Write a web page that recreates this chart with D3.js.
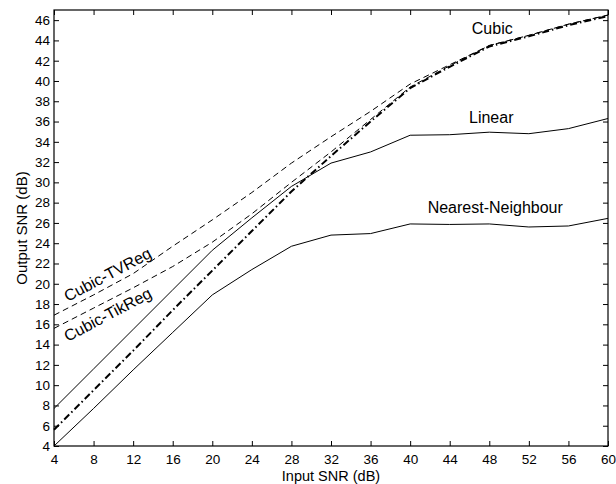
<!DOCTYPE html>
<html>
<head>
<meta charset="utf-8">
<script src="https://cdn.jsdelivr.net/npm/d3@7"></script>
<style>
  body { margin: 0; background: #fff; }
  text { font-family: "Liberation Sans", Arial, Helvetica, sans-serif; fill: #000; }
</style>
</head>
<body>
<div id="snr_chart"></div>
<script>
// input SNR (dB) on the x axis
var inputSNR = [4, 8, 12, 16, 20, 24, 28, 32, 36, 40, 44, 48, 52, 56, 60];

// output SNR (dB) for each method
var nearest  = [4.0, 7.7, 11.5, 15.2, 18.9, 21.4, 23.7, 24.8, 24.95, 25.9, 25.85, 25.9, 25.6, 25.7, 26.45];
var linear   = [7.7, 11.6, 15.5, 19.4, 23.3, 26.5, 29.6, 31.9, 33.0, 34.65, 34.7, 34.95, 34.8, 35.3, 36.3];
var cubic    = [5.6, 9.5, 13.4, 17.4, 21.3, 25.2, 29.1, 32.6, 36.0, 39.3, 41.4, 43.4, 44.4, 45.5, 46.4];
var cubicTik = [15.6, 17.6, 19.6, 21.7, 24.1, 26.9, 30.0, 33.0, 36.2, 39.4, 41.5, 43.5, 44.5, 45.6, 46.5];
var cubicTV  = [16.9, 18.9, 21.0, 23.7, 26.3, 29.0, 31.9, 34.5, 37.0, 39.7, 41.6, 43.5, 44.5, 45.6, 46.5];

var xTicks = [4, 8, 12, 16, 20, 24, 28, 32, 36, 40, 44, 48, 52, 56, 60];
var yTicks = [4, 6, 8, 10, 12, 14, 16, 18, 20, 22, 24, 26, 28, 30, 32, 34, 36, 38, 40, 42, 44, 46];

(function() {
  "use strict";
  var width = 616,
      height = 484;

  var left = 54, right = 608, top = 10, bottom = 446;

  var x = d3.scaleLinear().domain([4, 60]).range([left, right]);
  var y = d3.scaleLinear().domain([4, 47]).range([bottom, top]);

  var svg = d3.select("#snr_chart")
      .append("svg")
      .attr("width", width)
      .attr("height", height);

  svg.append("rect")
      .attr("width", width)
      .attr("height", height)
      .style("fill", "#fff");

  // series, drawn with the style each one has in the figure
  var series = [
    { values: cubicTV,  dash: "6,4",         width: 1 },
    { values: cubicTik, dash: "6,4",         width: 1 },
    { values: linear,   dash: null,          width: 1 },
    { values: nearest,  dash: null,          width: 1 },
    { values: cubic,    dash: "7,3,1.5,3",   width: 2 }
  ];

  var line = d3.line()
      .x(function(d, i) { return x(inputSNR[i]); })
      .y(function(d) { return y(d); });

  svg.append("g")
      .attr("class", "lines")
      .selectAll("path")
      .data(series)
      .enter()
      .append("path")
      .attr("d", function(d) { return line(d.values); })
      .style("fill", "none")
      .style("stroke", "#000")
      .style("stroke-width", function(d) { return d.width; })
      .style("stroke-dasharray", function(d) { return d.dash; });

  // axes, ticks point inwards on all four sides
  var fontSize = "13.5px";

  svg.append("g")
      .attr("transform", "translate(0," + bottom + ")")
      .call(d3.axisBottom(x).tickValues(xTicks).tickSizeInner(-5).tickSizeOuter(0).tickPadding(8));
  svg.append("g")
      .attr("transform", "translate(" + left + ",0)")
      .call(d3.axisLeft(y).tickValues(yTicks).tickSizeInner(-5).tickSizeOuter(0).tickPadding(4));
  svg.append("g")
      .attr("transform", "translate(0," + top + ")")
      .call(d3.axisTop(x).tickValues(xTicks).tickSizeInner(-5).tickSizeOuter(0).tickFormat(""));
  svg.append("g")
      .attr("transform", "translate(" + right + ",0)")
      .call(d3.axisRight(y).tickValues(yTicks).tickSizeInner(-5).tickSizeOuter(0).tickFormat(""));

  svg.selectAll(".domain").remove();
  svg.selectAll(".tick line").style("stroke", "#000");
  svg.selectAll(".tick text")
      .style("font-size", fontSize)
      .style("fill", "#000");

  svg.append("rect")
      .attr("x", left)
      .attr("y", top)
      .attr("width", right - left)
      .attr("height", bottom - top)
      .style("fill", "none")
      .style("stroke", "#000")
      .style("stroke-width", 1.2);

  // axis titles
  svg.append("text")
      .attr("x", (left + right) / 2)
      .attr("y", 481)
      .attr("text-anchor", "middle")
      .style("font-size", "14.5px")
      .text("Input SNR (dB)");

  svg.append("text")
      .attr("transform", "translate(27," + ((top + bottom) / 2) + ") rotate(-90)")
      .attr("text-anchor", "middle")
      .style("font-size", "15px")
      .text("Output SNR (dB)");

  // curve labels
  svg.append("text")
      .attr("x", x(48.3)).attr("y", y(44.6))
      .attr("text-anchor", "middle")
      .style("font-size", "16px")
      .text("Cubic");

  svg.append("text")
      .attr("x", x(48.2)).attr("y", y(35.85))
      .attr("text-anchor", "middle")
      .style("font-size", "16px")
      .text("Linear");

  svg.append("text")
      .attr("x", x(48.6)).attr("y", y(26.98))
      .attr("text-anchor", "middle")
      .style("font-size", "16px")
      .text("Nearest-Neighbour");

  svg.append("text")
      .attr("transform", "translate(" + x(5.4) + "," + y(18.2) + ") rotate(-28)")
      .style("font-size", "16px")
      .text("Cubic-TVReg");

  svg.append("text")
      .attr("transform", "translate(" + x(5.4) + "," + y(14.25) + ") rotate(-28)")
      .style("font-size", "16px")
      .text("Cubic-TikReg");
})();
</script>
</body>
</html>
